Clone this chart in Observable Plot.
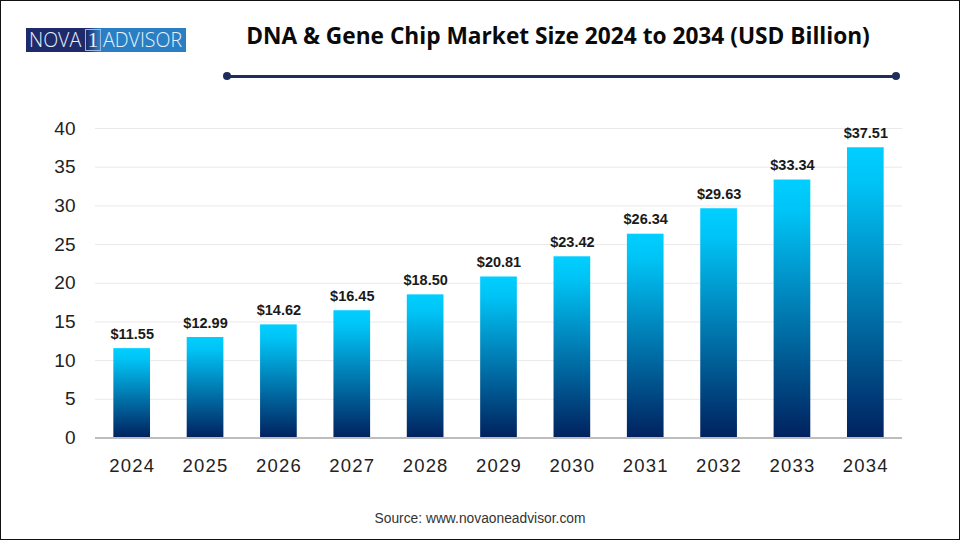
<!DOCTYPE html>
<html>
<head>
<meta charset="utf-8">
<script src="https://cdn.jsdelivr.net/npm/d3@7"></script>
<script src="https://cdn.jsdelivr.net/npm/@observablehq/plot@0.6"></script>
<style>
html,body{margin:0;padding:0;background:#fff;width:960px;height:540px;overflow:hidden;}
#frame{position:relative;width:960px;height:540px;box-sizing:border-box;border:1px solid #111;overflow:hidden;}
#logo{position:absolute;left:25px;top:27px;width:160px;height:24px;background:linear-gradient(90deg,#1f2a6b 0%,#1f2a6b 38%,#2a7fc4 46%,#2a7fc4 100%);color:#e6f0fa;font:300 19.6px/24px "Open Sans",sans-serif;white-space:nowrap;}
#logo span{position:absolute;top:0;}
#logo b{position:absolute;left:59px;top:1px;width:14px;height:20px;border:1px solid #9fb4da;text-align:center;font:400 21px/20px "Liberation Serif",serif;}
#title{position:absolute;left:0;right:0;top:20px;padding-left:156px;text-align:center;font:700 22.7px/30px "Open Sans","Liberation Sans",sans-serif;color:#0a0a0a;white-space:nowrap;}
#rule{position:absolute;left:226px;top:73.5px;width:669px;height:3px;background:#1f2d5c;}
.dot{position:absolute;top:71px;width:8px;height:8px;border-radius:50%;background:#1f2d5c;}
#source{position:absolute;left:0;width:958px;top:510px;text-align:center;font:13.8px/16px "Liberation Sans",sans-serif;color:#333;}
svg{position:absolute;left:-1px;top:-1px;max-width:none !important;}
g[aria-label="x-axis tick label"]{letter-spacing:1.2px;}
</style>
</head>
<body>
<div id="frame">
<div id="logo"><span style="left:3px">NOVA</span><b>1</b><span style="left:77px">ADVISOR</span></div>
<div id="title">DNA &amp; Gene Chip Market Size 2024 to 2034 (USD Billion)</div>
<div id="rule"></div>
<div class="dot" style="left:222px"></div>
<div class="dot" style="left:891px"></div>
<div id="source">Source: www.novaoneadvisor.com</div>
</div>
<script>
const years = ["2024","2025","2026","2027","2028","2029","2030","2031","2032","2033","2034"];
const marketSize = [11.55,12.99,14.62,16.45,18.50,20.81,23.42,26.34,29.63,33.34,37.51];
const yTicks = [0,5,10,15,20,25,30,35,40];
const rows = years.map((year,i)=>({year,value:marketSize[i]}));

const gradient = () => {
  const defs = d3.create("svg:defs");
  const g = defs.append("linearGradient").attr("id","barFill").attr("x1",0).attr("x2",0).attr("y1",0).attr("y2",1);
  g.append("stop").attr("offset","0%").attr("stop-color","#00cfff");
  g.append("stop").attr("offset","12%").attr("stop-color","#00c4f6");
  g.append("stop").attr("offset","100%").attr("stop-color","#00225f");
  return defs.node();
};

const chart = Plot.plot({
  width:960, height:540,
  marginLeft:95, marginRight:58, marginTop:128, marginBottom:102.5,
  style:{background:"transparent",fontFamily:"'Liberation Sans',sans-serif"},
  x:{type:"band",domain:years,paddingInner:0.5,paddingOuter:0.25,align:0.5,round:false,label:null},
  y:{domain:[0,40],ticks:yTicks,label:null},
  marks:[
    gradient,
    Plot.gridY(yTicks,{stroke:"#e9e9e9",strokeOpacity:1,strokeWidth:1}),
    Plot.barY(rows,{x:"year",y:"value",fill:"url(#barFill)"}),
    Plot.ruleY([0],{stroke:"#bdbdbd",strokeWidth:2}),
    Plot.axisY(yTicks,{tickSize:0,tickPadding:0,dx:-20,fontSize:19,fill:"#222",label:null,anchor:"left"}),
    Plot.axisX(years,{tickSize:0,tickPadding:0,dy:21,fontSize:18.5,fill:"#222",label:null}),
    Plot.text(rows,{x:"year",y:"value",text:d=>"$"+d.value.toFixed(2),dy:-14.5,fontSize:14.5,fontWeight:700,fill:"#1a1a1a"})
  ]
});
document.getElementById("frame").appendChild(chart);
</script>
</body>
</html>
